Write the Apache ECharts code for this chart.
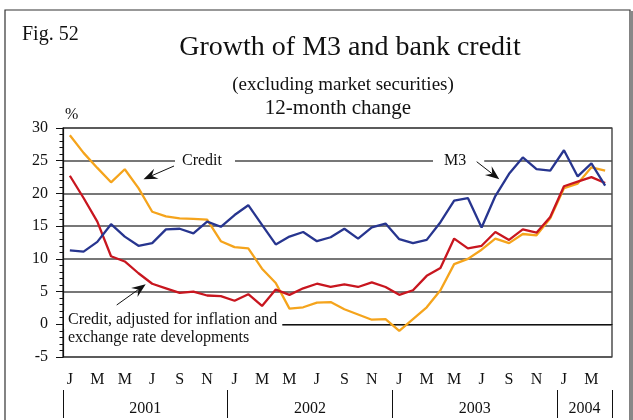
<!DOCTYPE html>
<html>
<head>
<meta charset="utf-8">
<script src="https://cdn.jsdelivr.net/npm/echarts@6/dist/echarts.min.js"></script>
<style>
html,body{margin:0;padding:0;background:#fff;}
#chart{width:633px;height:420px;}
</style>
</head>
<body>
<div id="chart"></div>
<script>
// ---- data ----
const categories = [
 '2001-01','2001-02','2001-03','2001-04','2001-05','2001-06','2001-07','2001-08','2001-09','2001-10','2001-11','2001-12',
 '2002-01','2002-02','2002-03','2002-04','2002-05','2002-06','2002-07','2002-08','2002-09','2002-10','2002-11','2002-12',
 '2003-01','2003-02','2003-03','2003-04','2003-05','2003-06','2003-07','2003-08','2003-09','2003-10','2003-11','2003-12',
 '2004-01','2004-02','2004-03','2004-04'];
const monthLetters = ['J','F','M','A','M','J','J','A','S','O','N','D'];
const yearLabels = ['2001','2002','2003','2004'];
const yearCenters = [6, 18, 30, 38];
const yearBounds = [0, 12, 24, 36, 40];
const credit = [28.9,26.2,23.9,21.7,23.7,20.8,17.2,16.5,16.2,16.1,
                16.0,12.7,11.8,11.6,8.5,6.3,2.4,2.6,3.3,3.4,
                2.3,1.5,0.7,0.8,-1.0,0.8,2.6,5.2,9.2,10.0,
                11.4,13.1,12.4,13.8,13.6,16.2,20.8,21.5,24.0,23.5];
const creditAdjusted = [22.7,19.3,15.7,10.4,9.6,7.8,6.2,5.5,4.8,5.0,
                4.4,4.3,3.6,4.6,2.8,5.3,4.5,5.5,6.2,5.7,
                6.1,5.7,6.4,5.7,4.5,5.2,7.4,8.6,13.1,11.6,
                12.0,14.1,12.9,14.5,14.0,16.4,21.1,21.8,22.5,21.6];
const m3 = [11.3,11.1,12.6,15.3,13.4,12.0,12.4,14.5,14.6,13.9,
                15.7,14.9,16.7,18.2,15.2,12.2,13.4,14.1,12.7,13.3,
                14.6,13.1,14.8,15.4,13.0,12.4,12.9,15.6,18.9,19.3,
                14.8,19.6,23.0,25.5,23.7,23.5,26.6,22.6,24.6,21.2];
const yTicks = [-5, 0, 5, 10, 15, 20, 25, 30];

// ---- chart ----
const FONT = "'Liberation Serif','Times New Roman',serif";
const chart = echarts.init(document.getElementById('chart'), null, {renderer: 'canvas'});

function arrow(x1, y1, x2, y2) {
  const dx = x2 - x1, dy = y2 - y1;
  const len = Math.sqrt(dx*dx + dy*dy);
  const ux = dx/len, uy = dy/len;
  const px = -uy, py = ux;
  const L = 14, W = 5.5, N = 9;
  const bx = x2 - ux*L, by = y2 - uy*L;
  const nx = x2 - ux*N, ny = y2 - uy*N;
  return [
    {type:'line', z:100, shape:{x1:x1, y1:y1, x2:nx, y2:ny}, style:{stroke:'#111', lineWidth:1}},
    {type:'polygon', z:100, shape:{points:[[x2,y2],[bx+px*W,by+py*W],[nx,ny],[bx-px*W,by-py*W]]}, style:{fill:'#111'}}
  ];
}

const textEl = (x, y, txt, size, extra) => Object.assign({
  type:'text', z:100, x:x, y:y,
  style: Object.assign({text:txt, font: size + 'px ' + FONT, fill:'#111', align:'left', verticalAlign:'middle'}, extra || {})
});

const graphics = [
  {type:'rect', z:0, shape:{x:5, y:10, width:625, height:440}, style:{fill:'none', stroke:'#333', lineWidth:1.2}},
  {type:'rect', z:0, shape:{x:630, y:11, width:3, height:440}, style:{fill:'#888'}},
  textEl(22, 35, 'Fig. 52', 20),
  textEl(350, 48, 'Growth of M3 and bank credit', 28, {align:'center'}),
  textEl(343, 85, '(excluding market securities)', 19, {align:'center'}),
  textEl(338, 108, '12-month change', 21, {align:'center'}),
  textEl(65, 115, '%', 16),
  textEl(175, 161, 'Credit', 16, {backgroundColor:'#fff', padding:[3,13,3,7]}),
  textEl(433, 161, 'M3', 16, {backgroundColor:'#fff', padding:[3,18,3,11]}),
  textEl(64, 320, 'Credit, adjusted for inflation and', 16, {backgroundColor:'#fff', padding:[1,5,1,4]}),
  textEl(68, 338, 'exchange rate developments', 16)
].concat(arrow(174, 166, 143.5, 179.3))
 .concat(arrow(476.7, 161.7, 499.3, 179.3))
 .concat(arrow(116.7, 305, 145.7, 284.3));

const option = {
  animation: false,
  backgroundColor: '#fff',
  grid: {left: 63, right: 21, top: 128, bottom: 63, show: true, borderColor: '#222', borderWidth: 1.2, backgroundColor: 'transparent'},
  xAxis: [{
    type: 'category',
    data: categories,
    boundaryGap: true,
    axisLine: {lineStyle: {color: '#111', width: 1.2}},
    axisTick: {alignWithLabel: true, interval: 0, length: 6, lineStyle: {color: '#111'}},
    axisLabel: {
      interval: 1, margin: 15,
      fontFamily: FONT, fontSize: 16, color: '#111',
      formatter: (v) => monthLetters[parseInt(v.slice(5), 10) - 1]
    },
    splitLine: {show: false}
  }, {
    type: 'value',
    min: 0, max: 40,
    position: 'bottom',
    offset: 33,
    axisLine: {show: false},
    axisTick: {show: true, customValues: yearBounds, length: 28, lineStyle: {color: '#111', width: 1}},
    axisLabel: {
      show: true, customValues: yearCenters, margin: 11,
      fontFamily: FONT, fontSize: 16, color: '#111',
      formatter: (v) => yearLabels[yearCenters.indexOf(Math.round(v))]
    },
    splitLine: {show: false}
  }],
  yAxis: {
    type: 'value',
    min: yTicks[0], max: yTicks[yTicks.length - 1], interval: 5,
    axisLine: {show: true, lineStyle: {color: '#111', width: 1.2}},
    axisTick: {show: true, length: 7, lineStyle: {color: '#111'}},
    minorTick: {show: true, splitNumber: 5, length: 3.5, lineStyle: {color: '#111'}},
    axisLabel: {margin: 15, fontFamily: FONT, fontSize: 16, color: '#111'},
    splitLine: {show: true, lineStyle: {color: '#4a4a4a', width: 1.5}}
  },
  series: [
    {name: 'Credit', type: 'line', data: credit, symbol: 'none', z: 3,
     lineStyle: {color: '#F5A41C', width: 2.3}, itemStyle: {color: '#F5A41C'}},
    {name: 'Credit, adjusted', type: 'line', data: creditAdjusted, symbol: 'none', z: 4,
     lineStyle: {color: '#C8161F', width: 2.3}, itemStyle: {color: '#C8161F'}},
    {name: 'M3', type: 'line', data: m3, symbol: 'none', z: 5,
     lineStyle: {color: '#27358F', width: 2.3}, itemStyle: {color: '#27358F'}}
  ],
  graphic: graphics
};
chart.setOption(option);
</script>
</body>
</html>
